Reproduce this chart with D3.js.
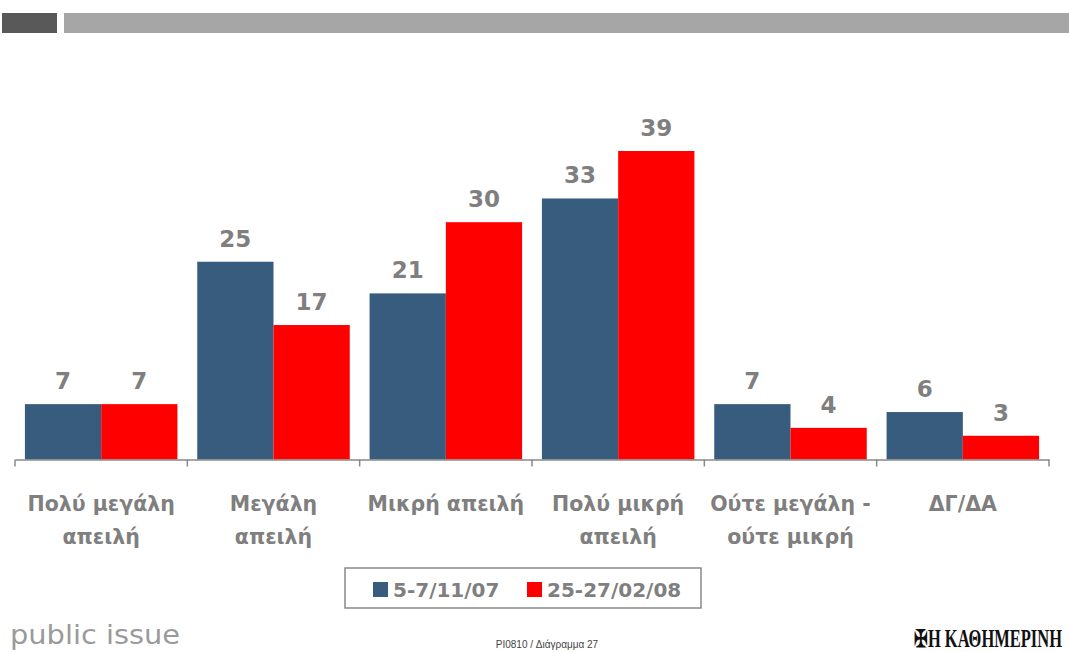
<!DOCTYPE html>
<html>
<head>
<meta charset="utf-8">
<script src="https://cdn.jsdelivr.net/npm/d3@7"></script>
<style>
  body { margin: 0; background: #fff; }
  svg { display: block; }
</style>
</head>
<body>
<div id="chart"></div>
<script>
// chart data
let categories = [
  ["Πολύ μεγάλη", "απειλή"],
  ["Μεγάλη", "απειλή"],
  ["Μικρή απειλή"],
  ["Πολύ μικρή", "απειλή"],
  ["Ούτε μεγάλη -", "ούτε μικρή"],
  ["ΔΓ/ΔΑ"]
];
let seriesNames = ["5-7/11/07", "25-27/02/08"];
let nov07 = [7, 25, 21, 33, 7, 6];
let feb08 = [7, 17, 30, 39, 4, 3];

let width = 1069, height = 652;
let colors = ["#375c7e", "#ff0000"];
let textGray = "#7f7f7f";

let svg = d3.select("#chart").append("svg")
  .attr("width", width)
  .attr("height", height);

// header strips
svg.append("rect").attr("x", 2).attr("y", 13).attr("width", 55).attr("height", 20).attr("fill", "#595959");
svg.append("rect").attr("x", 64).attr("y", 13).attr("width", 1005).attr("height", 20).attr("fill", "#a6a6a6");

let catIdx = categories.map((c, i) => i);
let x0 = d3.scaleBand()
  .domain(catIdx)
  .range([15, 1049])
  .padding(0);

let x1 = d3.scaleBand()
  .domain(seriesNames)
  .range([0, x0.bandwidth()])
  .paddingInner(0)
  .paddingOuter(0.13);

let y = d3.scaleLinear()
  .domain([0, 39])
  .range([459.5, 151]);

let rows = catIdx.map(i => [
  {s: seriesNames[0], v: nov07[i], c: colors[0]},
  {s: seriesNames[1], v: feb08[i], c: colors[1]}
]);

let groups = svg.selectAll("g.grp")
  .data(rows)
  .enter().append("g")
  .attr("class", "grp")
  .attr("transform", (d, i) => "translate(" + x0(i) + ",0)");

groups.selectAll("rect")
  .data(d => d)
  .enter().append("rect")
  .attr("x", d => x1(d.s))
  .attr("y", d => y(d.v))
  .attr("width", x1.bandwidth())
  .attr("height", d => y(0) - y(d.v))
  .attr("fill", d => d.c);

groups.selectAll("text.val")
  .data(d => d)
  .enter().append("text")
  .attr("class", "val")
  .attr("x", d => x1(d.s) + x1.bandwidth() / 2)
  .attr("y", d => y(d.v) - 15)
  .attr("text-anchor", "middle")
  .attr("font-family", "DejaVu Sans")
  .attr("font-weight", "bold")
  .attr("font-size", 23)
  .attr("fill", textGray)
  .text(d => d.v);

// axis
let axis = d3.axisBottom(x0).tickSize(0).tickFormat("");
let ax = svg.append("g")
  .attr("transform", "translate(0," + y(0) + ")")
  .call(axis);
ax.select(".domain").attr("stroke", "#898989").attr("stroke-width", 1.5);

let bounds = catIdx.map(i => x0(i)).concat([x0(catIdx.length - 1) + x0.bandwidth()]);
svg.selectAll("line.tick")
  .data(bounds)
  .enter().append("line")
  .attr("x1", d => d).attr("x2", d => d)
  .attr("y1", y(0)).attr("y2", y(0) + 7)
  .attr("stroke", "#898989")
  .attr("stroke-width", 1.5);

// category labels
let catText = svg.selectAll("text.cat")
  .data(categories)
  .enter().append("text")
  .attr("class", "cat")
  .attr("text-anchor", "middle")
  .attr("font-family", "DejaVu Sans")
  .attr("font-weight", "bold")
  .attr("font-size", 20.5)
  .attr("fill", textGray);
catText.selectAll("tspan")
  .data((d, i) => d.map(line => ({line: line, i: i})))
  .enter().append("tspan")
  .attr("x", d => x0(d.i) + x0.bandwidth() / 2)
  .attr("y", (d, j) => 511 + j * 33)
  .text(d => d.line);

// legend
let legend = svg.append("g");
legend.append("rect")
  .attr("x", 345).attr("y", 568)
  .attr("width", 356).attr("height", 40)
  .attr("fill", "#fff")
  .attr("stroke", "#898989")
  .attr("stroke-width", 1.5);
let legX = [373, 527];
let li = legend.selectAll("g.li")
  .data(seriesNames)
  .enter().append("g")
  .attr("transform", (d, i) => "translate(" + legX[i] + ",582)");
li.append("rect")
  .attr("width", 15).attr("height", 15)
  .attr("fill", (d, i) => colors[i]);
li.append("text")
  .attr("x", 20).attr("y", 15)
  .attr("font-family", "DejaVu Sans")
  .attr("font-weight", "bold")
  .attr("font-size", 20)
  .attr("fill", textGray)
  .text(d => d);

// footer
svg.append("text")
  .attr("x", 10).attr("y", 644)
  .attr("font-family", "DejaVu Sans")
  .attr("font-size", 26)
  .attr("fill", "#9a9a9a")
  .attr("textLength", 170)
  .attr("lengthAdjust", "spacingAndGlyphs")
  .text("public issue");
svg.append("text")
  .attr("x", 547).attr("y", 648)
  .attr("text-anchor", "middle")
  .attr("font-family", "Liberation Sans Narrow, Liberation Sans")
  .attr("font-size", 10)
  .attr("fill", "#444")
  .text("PI0810 / Διάγραμμα 27");
svg.append("g")
  .attr("transform", "translate(914,647) scale(1,1.35)")
  .append("text")
  .attr("x", 0).attr("y", 0)
  .attr("font-family", "Liberation Serif")
  .attr("font-weight", "bold")
  .attr("font-size", 18)
  .attr("fill", "#111")
  .attr("textLength", 148)
  .attr("lengthAdjust", "spacingAndGlyphs")
  .text("✠Η ΚΑΘΗΜΕΡΙΝΗ");
</script>
</body>
</html>
